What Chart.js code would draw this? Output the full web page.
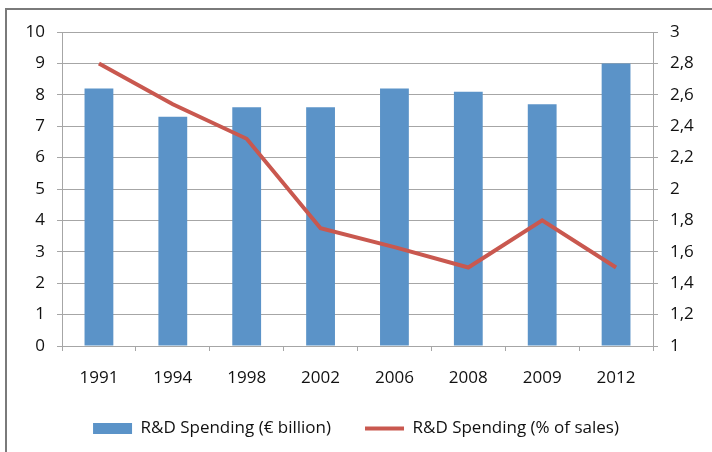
<html>
<head>
  <script src="https://cdn.jsdelivr.net/npm/chart.js"></script>
  <style>
    body { margin: 0; background: #fff; }
    .chart-wrapper { position: relative; width: 712px; height: 452px; }
  </style>
</head>
<body>
<div class="chart-wrapper">
  <canvas id="chart-1"></canvas>
</div>

<script>
  // values
  const years = ["1991", "1994", "1998", "2002", "2006", "2008", "2009", "2012"];
  const spendingBillion = [8.2, 7.3, 7.6, 7.6, 8.2, 8.1, 7.7, 9.0];
  const spendingPctSales = [2.8, 2.54, 2.32, 1.75, 1.63, 1.5, 1.8, 1.5];

  const textColor = '#111111';
  const gridColor = '#a6a6a6';

  Chart.defaults.font.family = "'Open Sans', sans-serif";
  Chart.defaults.font.size = 17;
  Chart.defaults.color = textColor;

  // grey frame round the whole chart
  const framePlugin = {
    id: 'frame',
    beforeDraw(chart) {
      const ctx = chart.ctx;
      ctx.save();
      ctx.strokeStyle = '#7a7a7a';
      ctx.lineWidth = 2;
      ctx.strokeRect(6, 9, 760, 500);
      ctx.restore();
    }
  };

  const config = {
    data: {
      labels: years,
      datasets: [
        {
          type: 'line',
          label: 'R&D Spending (% of sales)',
          data: spendingPctSales,
          yAxisID: 'y2',
          borderColor: '#c9584f',
          backgroundColor: '#c9584f',
          borderWidth: 4,
          pointRadius: 0,
          tension: 0,
          order: 0
        },
        {
          type: 'bar',
          label: 'R&D Spending (€ billion)',
          data: spendingBillion,
          yAxisID: 'y',
          backgroundColor: '#5b93c8',
          borderWidth: 0,
          barPercentage: 0.39,
          categoryPercentage: 1,
          order: 1
        }
      ]
    },
    options: {
      responsive: true,
      maintainAspectRatio: false,
      animation: false,
      layout: {
        padding: { top: 32, left: 0, right: 0, bottom: 5 }
      },
      scales: {
        x: {
          offset: true,
          grid: {
            offset: true,
            drawOnChartArea: false,
            color: gridColor,
            tickLength: 5
          },
          border: { color: gridColor },
          ticks: { padding: 17, color: textColor },
          afterFit(scale) { scale.height = 40; }
        },
        y: {
          position: 'left',
          min: 0,
          max: 10,
          ticks: { stepSize: 1, padding: 12, color: textColor },
          grid: { color: gridColor, tickLength: 5 },
          border: { color: gridColor },
          afterFit(scale) { scale.width = 62; }
        },
        y2: {
          position: 'right',
          min: 1,
          max: 3,
          ticks: {
            stepSize: 0.2,
            padding: 12,
            color: textColor,
            callback: v => String(Math.round(v * 10) / 10).replace('.', ',')
          },
          grid: { drawOnChartArea: false, color: gridColor, tickLength: 5 },
          border: { color: gridColor },
          afterFit(scale) { scale.width = 59; }
        }
      },
      plugins: {
        tooltip: { enabled: false },
        legend: {
          position: 'bottom',
          reverse: true,
          labels: {
            usePointStyle: true,
            pointStyleWidth: 39,
            boxHeight: 11,
            padding: 34,
            color: textColor,
            generateLabels(chart) {
              const items = Chart.defaults.plugins.legend.labels.generateLabels(chart);
              items.forEach(it => {
                it.pointStyle = chart.data.datasets[it.datasetIndex].type === 'line' ? 'line' : 'rect';
              });
              return items;
            }
          }
        }
      }
    },
    plugins: [framePlugin]
  };

  const chart = new Chart(document.getElementById('chart-1'), config);
</script>
</body>
</html>
